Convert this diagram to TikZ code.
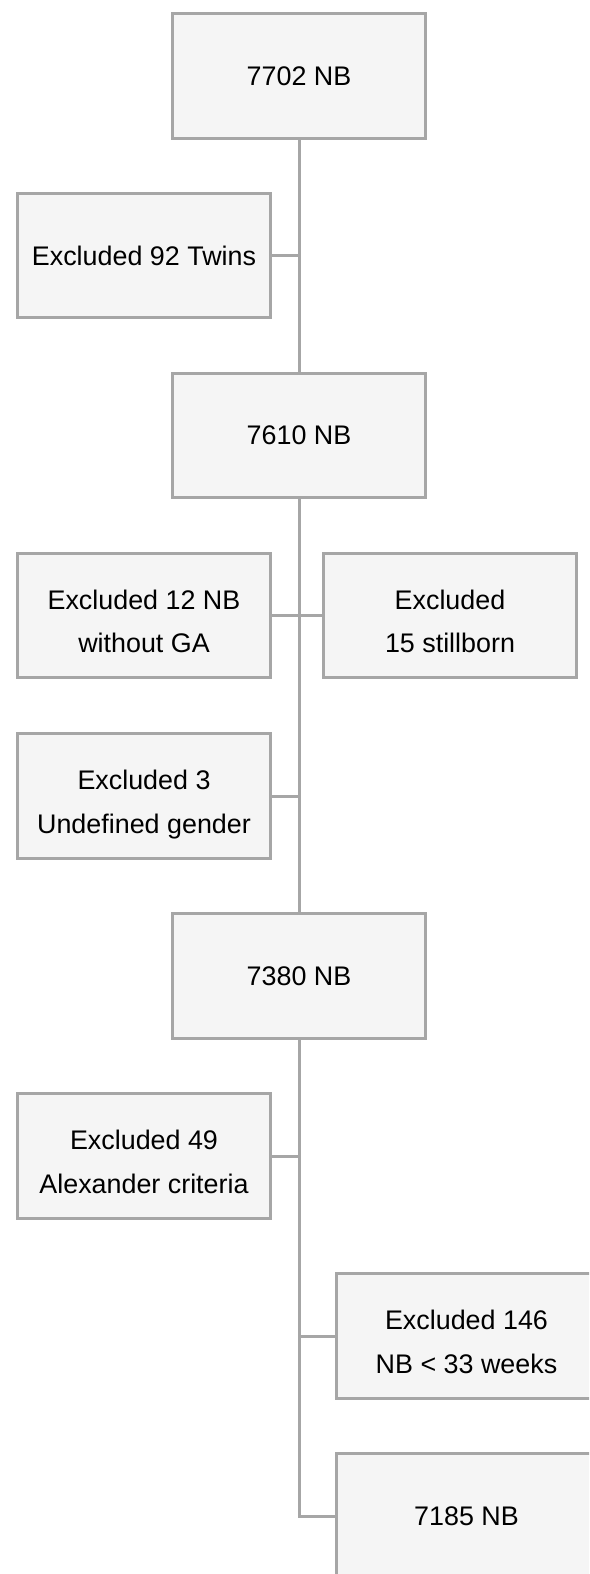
\documentclass[tikz,border=0pt]{standalone}
\usepackage{fontspec}
\setmainfont{Liberation Sans}
\usepackage{tikz}
\usetikzlibrary{positioning}
\definecolor{boxfill}{HTML}{F5F5F5}
\definecolor{boxline}{HTML}{A6A6A6}

\begin{document}
\begin{tikzpicture}[x=0.02cm,y=-0.02cm,
    box/.style={draw=boxline,line width=0.06cm,fill=boxfill,minimum width=5.06cm,minimum height=2.5cm,align=center,font=\fontsize{15.3}{25}\selectfont},
    twoline/.style={text height=1.55cm,text depth=0.05cm},
    wide/.style={minimum width=5.2cm},
    link/.style={draw=boxline,line width=0.06cm}]
\useasboundingbox (0,0) rectangle (589,1574);
\clip (0,0) rectangle (589,1574);

% Main flow
\node[box] (nb7702) at (299,76) {7702 NB};
\node[box] (twins) at (144,255.5) {Excluded 92 Twins};
\node[box] (nb7610) at (299,435.5) {7610 NB};
\node[box,twoline] (noga) at (144,615.5) {Excluded 12 NB\\without GA};
\node[box,twoline] (stillborn) at (450,615.5) {Excluded\\15 stillborn};
\node[box,twoline] (gender) at (144,796) {Excluded 3\\Undefined gender};
\node[box] (nb7380) at (299,976) {7380 NB};
\node[box,twoline] (alexander) at (144,1156) {Excluded 49\\Alexander criteria};
\node[box,twoline,wide] (preterm) at (466.5,1336) {Excluded 146\\NB < 33 weeks};
\node[box,wide] (nb7185) at (466.5,1516) {7185 NB};

% Connectors
\draw[link] (nb7702.south) -- (nb7610.north);
\draw[link] (twins.east) -- (twins.east -| nb7702.south);
\draw[link] (nb7610.south) -- (nb7380.north);
\draw[link] (noga.east) -- (stillborn.west);
\draw[link] (gender.east) -- (gender.east -| nb7610.south);
\draw[link] (nb7380.south) |- (nb7185.west);
\draw[link] (alexander.east) -- (alexander.east -| nb7380.south);
\draw[link] (preterm.west) -- (preterm.west -| nb7380.south);
\end{tikzpicture}
\end{document}
